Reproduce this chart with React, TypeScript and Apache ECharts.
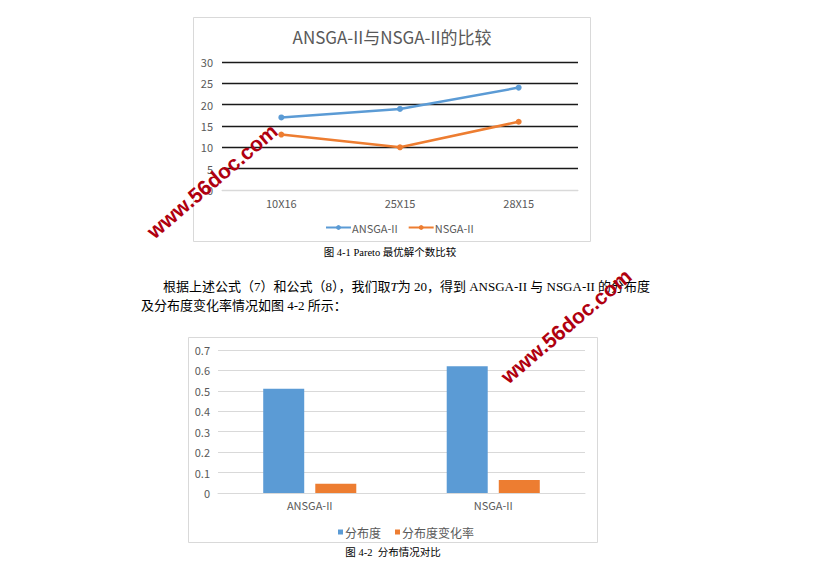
import React, { useEffect, useRef } from "react";
import * as echarts from "echarts";

const categories1 = ["10X16", "25X15", "28X15"];
const ansgaCounts = [17, 19, 24];
const nsgaCounts = [13, 10, 16];

const categories2 = ["ANSGA-II", "NSGA-II"];
const distribution = [0.51, 0.62];
const distributionChange = [0.045, 0.064];

const title1 = "ANSGA-II与NSGA-II的比较";
const caption1 = "图 4-1 Pareto 最优解个数比较";
const caption2 = "图 4-2  分布情况对比";
const watermark = "www.56doc.com";

const BLUE = "#5B9BD5";
const ORANGE = "#ED7D31";
const GREY_TEXT = "#595959";
const CHART_FONT = "'Noto Sans CJK SC', 'Noto Sans', sans-serif";
const DOC_FONT = "'Liberation Serif', 'DejaVu Serif', 'Noto Sans CJK SC', serif";

export default function App() {
  const ref = useRef<HTMLDivElement>(null);

  useEffect(() => {
    if (!ref.current) return;
    const chart = echarts.init(ref.current, null, { renderer: "svg" });
    const wmStyle = {
      text: watermark,
      fontSize: 21,
      fontWeight: "bold",
      fontFamily: "'Liberation Sans', Arial, sans-serif",
      fill: "#B0000F",
      align: "center",
      verticalAlign: "middle",
    };
    chart.setOption({
      animation: false,
      backgroundColor: "#ffffff",
      textStyle: { fontFamily: CHART_FONT },
      grid: [
        { left: 222, top: 62, width: 356, height: 128 },
        { left: 218, top: 350, width: 367, height: 143 },
      ],
      xAxis: [
        {
          gridIndex: 0,
          type: "category",
          data: categories1,
          boundaryGap: true,
          axisTick: { show: false },
          axisLine: { show: true, lineStyle: { color: "#d9d9d9", width: 1 } },
          axisLabel: { color: GREY_TEXT, fontSize: 11, margin: 7 },
        },
        {
          gridIndex: 1,
          type: "category",
          data: categories2,
          axisTick: { show: false },
          axisLine: { show: true, lineStyle: { color: "#d9d9d9", width: 1 } },
          axisLabel: { color: GREY_TEXT, fontSize: 11, margin: 6 },
        },
      ],
      yAxis: [
        {
          gridIndex: 0,
          type: "value",
          min: 0,
          max: 30,
          interval: 5,
          axisLine: { show: false },
          axisTick: { show: false },
          axisLabel: { color: GREY_TEXT, fontSize: 11, margin: 9 },
          splitLine: {
            lineStyle: {
              color: ["#d9d9d9", "#1a1a1a", "#1a1a1a", "#1a1a1a", "#1a1a1a", "#1a1a1a", "#1a1a1a"],
              width: 1.3,
            },
          },
        },
        {
          gridIndex: 1,
          type: "value",
          min: 0,
          max: 0.7,
          interval: 0.1,
          axisLine: { show: false },
          axisTick: { show: false },
          axisLabel: { color: GREY_TEXT, fontSize: 11, margin: 8 },
          splitLine: { lineStyle: { color: "#d9d9d9", width: 1 } },
        },
      ],
      legend: [
        {
          data: ["ANSGA-II", "NSGA-II"],
          left: 320,
          top: 217,
          itemWidth: 25,
          itemHeight: 6,
          itemGap: 10,
          textStyle: { color: GREY_TEXT, fontSize: 11, padding: [0, 0, 0, -4] },
        },
        {
          data: ["分布度", "分布度变化率"],
          left: 333,
          top: 521,
          icon: "rect",
          itemWidth: 5,
          itemHeight: 5,
          itemGap: 14,
          textStyle: { color: GREY_TEXT, fontSize: 12, padding: [0, 0, 0, -3] },
        },
      ],
      series: [
        {
          name: "ANSGA-II",
          type: "line",
          xAxisIndex: 0,
          yAxisIndex: 0,
          data: ansgaCounts,
          symbol: "circle",
          symbolSize: 6,
          color: BLUE,
          lineStyle: { width: 2.5, color: BLUE },
        },
        {
          name: "NSGA-II",
          type: "line",
          xAxisIndex: 0,
          yAxisIndex: 0,
          data: nsgaCounts,
          symbol: "circle",
          symbolSize: 6,
          color: ORANGE,
          lineStyle: { width: 2.5, color: ORANGE },
        },
        {
          name: "分布度",
          type: "bar",
          xAxisIndex: 1,
          yAxisIndex: 1,
          data: distribution,
          barWidth: 41,
          barGap: "27%",
          color: BLUE,
        },
        {
          name: "分布度变化率",
          type: "bar",
          xAxisIndex: 1,
          yAxisIndex: 1,
          data: distributionChange,
          barWidth: 41,
          barGap: "27%",
          color: ORANGE,
        },
      ],
      graphic: [
        {
          type: "rect",
          z: -10,
          shape: { x: 193.5, y: 17.5, width: 397, height: 224 },
          style: { fill: "#ffffff", stroke: "#d9d9d9", lineWidth: 1 },
          silent: true,
        },
        {
          type: "rect",
          z: -10,
          shape: { x: 188.5, y: 337.5, width: 409, height: 205 },
          style: { fill: "#ffffff", stroke: "#d9d9d9", lineWidth: 1 },
          silent: true,
        },
        {
          type: "text",
          x: 392,
          y: 36,
          style: {
            text: title1,
            fontSize: 17,
            fontFamily: CHART_FONT,
            fill: GREY_TEXT,
            align: "center",
            verticalAlign: "middle",
          },
        },
        {
          type: "text",
          x: 390,
          y: 252,
          style: {
            text: caption1,
            fontSize: 10.5,
            fontFamily: DOC_FONT,
            fill: "#000000",
            align: "center",
            verticalAlign: "middle",
          },
        },
        {
          type: "text",
          x: 163,
          y: 286,
          style: {
            text: "根据上述公式（7）和公式（8），我们取{i|T}为 20，得到 ANSGA-II 与 NSGA-II 的分布度",
            rich: { i: { fontStyle: "italic", fontSize: 13, fontFamily: DOC_FONT, fill: "#000" } },
            fontSize: 13,
            fontFamily: DOC_FONT,
            fill: "#000000",
            align: "left",
            verticalAlign: "middle",
          },
        },
        {
          type: "text",
          x: 141,
          y: 305,
          style: {
            text: "及分布度变化率情况如图 4-2 所示：",
            fontSize: 13,
            fontFamily: DOC_FONT,
            fill: "#000000",
            align: "left",
            verticalAlign: "middle",
          },
        },
        {
          type: "text",
          x: 393,
          y: 552,
          style: {
            text: caption2,
            fontSize: 10.5,
            fontFamily: DOC_FONT,
            fill: "#000000",
            align: "center",
            verticalAlign: "middle",
          },
        },
        {
          type: "text",
          x: 212,
          y: 181,
          rotation: 0.705,
          z: 100,
          style: wmStyle,
        },
        {
          type: "text",
          x: 566,
          y: 326,
          rotation: 0.705,
          z: 100,
          style: wmStyle,
        },
      ],
    });
    return () => chart.dispose();
  }, []);

  return (
    <div
      ref={ref}
      style={{ position: "absolute", left: 0, top: 0, width: 815, height: 572, background: "#fff" }}
    />
  );
}
